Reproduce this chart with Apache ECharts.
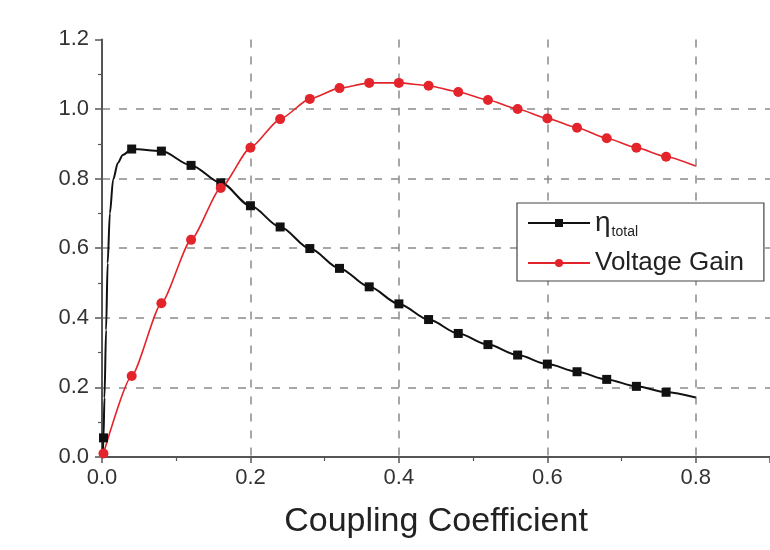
<!DOCTYPE html>
<html>
<head>
<meta charset="utf-8">
<script src="https://cdn.jsdelivr.net/npm/echarts@6/dist/echarts.min.js"></script>
<style>html,body{margin:0;padding:0;background:#fff}#c{width:770px;height:550px}</style>
</head>
<body>
<div id="c"></div>
<script>
// η_total: marked points
var etaMarkK = [0.002, 0.04, 0.08, 0.12, 0.16, 0.20, 0.24, 0.28, 0.32, 0.36, 0.40, 0.44, 0.48, 0.52, 0.56, 0.60, 0.64, 0.68, 0.72, 0.76];
var etaMarkV = [0.055, 0.885, 0.879, 0.838, 0.788, 0.722, 0.661, 0.599, 0.542, 0.489, 0.440, 0.395, 0.355, 0.323, 0.293, 0.267, 0.245, 0.223, 0.203, 0.186];
// η_total: unmarked curve points
var etaCurveK = [0.001, 0.0033, 0.0055, 0.0076, 0.0106, 0.015, 0.0214, 0.028, 0.80];
var etaCurveV = [0.0, 0.17, 0.365, 0.557, 0.70, 0.797, 0.845, 0.868, 0.171];
// Voltage gain: marked points
var gainMarkK = [0.002, 0.04, 0.08, 0.12, 0.16, 0.20, 0.24, 0.28, 0.32, 0.36, 0.40, 0.44, 0.48, 0.52, 0.56, 0.60, 0.64, 0.68, 0.72, 0.76];
var gainMarkV = [0.01, 0.233, 0.442, 0.624, 0.773, 0.889, 0.971, 1.029, 1.060, 1.075, 1.075, 1.067, 1.049, 1.026, 1.000, 0.973, 0.946, 0.916, 0.889, 0.863];
// Voltage gain: unmarked curve points
var gainCurveK = [0.80];
var gainCurveV = [0.836];

var xTicks = [0.0, 0.2, 0.4, 0.6, 0.8];
var yTicks = [0.0, 0.2, 0.4, 0.6, 0.8, 1.0, 1.2];
var seriesNames = ['η_total', 'Voltage Gain'];

function build(mk, mv, ck, cv, sym) {
  var pts = [];
  for (var i = 0; i < mk.length; i++) pts.push({value: [mk[i], mv[i]], symbol: sym});
  for (var j = 0; j < ck.length; j++) pts.push({value: [ck[j], cv[j]], symbol: 'none'});
  pts.sort(function (a, b) { return a.value[0] - b.value[0]; });
  return pts;
}
function isTick(arr, v) {
  for (var i = 0; i < arr.length; i++) if (Math.abs(arr[i] - v) < 1e-6) return true;
  return false;
}

var font = '"Liberation Sans", Arial, sans-serif';
var axisColor = '#555';
var chart = echarts.init(document.getElementById('c'), null, {renderer: 'canvas'});
chart.setOption({
  animation: false,
  backgroundColor: '#fff',
  grid: {left: 102, top: 39.4, width: 674, height: 417.6},
  xAxis: {
    type: 'value', min: 0, max: 0.9, interval: 0.2,
    name: 'Coupling Coefficient', nameLocation: 'middle', nameGap: 48,
    nameTextStyle: {fontFamily: font, fontSize: 34, color: '#222'},
    axisLine: {show: true, onZero: false, lineStyle: {color: axisColor, width: 2}},
    axisTick: {show: true, inside: false, length: 6, lineStyle: {color: axisColor, width: 1.5}},
    minorTick: {show: true, splitNumber: 2, length: 4, lineStyle: {color: axisColor, width: 1.2}},
    axisLabel: {
      fontFamily: font, fontSize: 22, color: '#333', margin: 10, showMaxLabel: false,
      formatter: function (v) { return isTick(xTicks, v) ? v.toFixed(1) : ''; }
    },
    splitLine: {show: true, showMinLine: false, showMaxLine: false,
      lineStyle: {color: '#8a8a8a', width: 1.5, type: [8, 9]}}
  },
  yAxis: {
    type: 'value', min: 0, max: 1.2, interval: 0.2,
    axisLine: {show: true, onZero: false, lineStyle: {color: axisColor, width: 2}},
    axisTick: {show: true, inside: false, length: 7, lineStyle: {color: axisColor, width: 1.5}},
    minorTick: {show: true, splitNumber: 2, length: 4, lineStyle: {color: axisColor, width: 1.2}},
    axisLabel: {
      fontFamily: font, fontSize: 22, color: '#333', margin: 13,
      formatter: function (v) { return isTick(yTicks, v) ? v.toFixed(1) : ''; }
    },
    splitLine: {show: true, showMinLine: false, showMaxLine: false,
      lineStyle: {color: '#8a8a8a', width: 1.5, type: [8, 9]}}
  },
  legend: {
    orient: 'vertical', left: 517, top: 203,
    padding: [4, 20, 2, 10],
    borderColor: '#444', borderWidth: 1.2, backgroundColor: '#fff',
    itemWidth: 62, itemHeight: 10, itemGap: 8,
    data: seriesNames,
    formatter: function (n) {
      return n === 'η_total' ? '{eta|η}{sub|total}' : '{txt|' + n + '}';
    },
    textStyle: {
      fontFamily: font, color: '#222', fontSize: 26, lineHeight: 32,
      rich: {
        eta: {fontFamily: font, fontSize: 28, color: '#222', lineHeight: 32},
        sub: {fontFamily: font, fontSize: 14, color: '#222', lineHeight: 32, verticalAlign: 'bottom', padding: [0, 0, 0, 1]},
        txt: {fontFamily: font, fontSize: 26, color: '#222', lineHeight: 32}
      }
    }
  },
  series: [
    {
      name: seriesNames[0], type: 'line', smooth: 0.3, smoothMonotone: 'x',
      symbol: 'rect', symbolSize: 9, showAllSymbol: true,
      lineStyle: {color: '#111', width: 2},
      itemStyle: {color: '#111'},
      data: build(etaMarkK, etaMarkV, etaCurveK, etaCurveV, 'rect')
    },
    {
      name: seriesNames[1], type: 'line', smooth: 0.2, smoothMonotone: 'x',
      symbol: 'circle', symbolSize: 10, showAllSymbol: true,
      lineStyle: {color: '#e3242b', width: 1.6},
      itemStyle: {color: '#e3242b'},
      data: build(gainMarkK, gainMarkV, gainCurveK, gainCurveV, 'circle')
    }
  ]
});
</script>
</body>
</html>
